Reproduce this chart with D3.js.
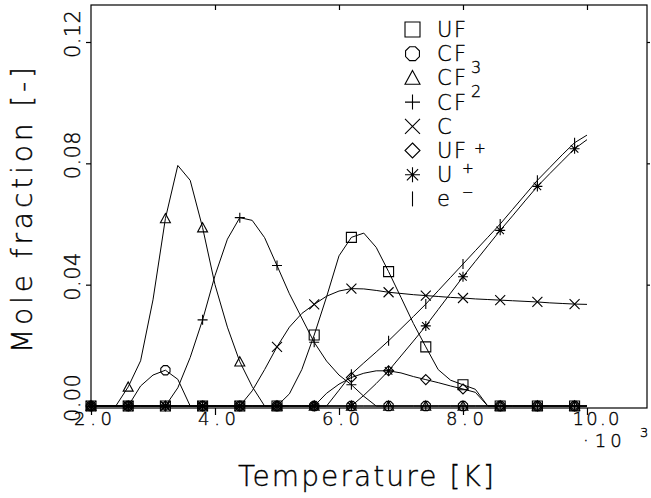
<!DOCTYPE html>
<html>
<head>
<meta charset="utf-8">
<script src="https://cdn.jsdelivr.net/npm/d3@7"></script>
<style>
  html, body { margin: 0; padding: 0; background: #fff; }
  svg { display: block; }
  text { font-family: "DejaVu Sans", "Liberation Sans", sans-serif; font-weight: 200; fill: #000;
         stroke: #000; stroke-width: 0.35px; }
</style>
</head>
<body>
<svg id="chart" width="651" height="498"></svg>
<script>
// Temperature grid of the computed curves (x 10^3 K)
const temperature = [2.0, 2.2, 2.4, 2.6, 2.8, 3.0, 3.2, 3.4, 3.6, 3.8,
                     4.0, 4.2, 4.4, 4.6, 4.8, 5.0, 5.2, 5.4, 5.6, 5.8,
                     6.0, 6.2, 6.4, 6.6, 6.8, 7.0, 7.2, 7.4, 7.6, 7.8,
                     8.0, 8.2, 8.4, 8.6, 8.8, 9.0, 9.2, 9.4, 9.6, 9.8, 10.0];

// Mole fractions of each species on that grid
const UF    = [0, 0, 0, 0, 0, 0, 0, 0, 0, 0,
               0, 0, 0, 0, 0, 0, 0.0040, 0.0120, 0.0234, 0.0360,
               0.0495, 0.0556, 0.0570, 0.0523, 0.0443, 0.0358, 0.0272, 0.0195, 0.0120, 0.0085,
               0.0070, 0.0055, 0, 0, 0, 0, 0, 0, 0, 0, 0];
const CF3   = [0, 0, 0, 0, 0.0066, 0.0102, 0.0118, 0.0088, 0, 0,
               0, 0, 0, 0, 0, 0, 0, 0, 0, 0,
               0, 0, 0, 0, 0, 0, 0, 0, 0, 0,
               0, 0, 0, 0, 0, 0, 0, 0, 0, 0, 0];
const CF2   = [0, 0, 0, 0.0063, 0.0149, 0.0350, 0.0618, 0.0793, 0.0744, 0.0588,
               0.0400, 0.0260, 0.0146, 0.0064, 0, 0, 0, 0, 0, 0,
               0, 0, 0, 0, 0, 0, 0, 0, 0, 0,
               0, 0, 0, 0, 0, 0, 0, 0, 0, 0, 0];
const CF    = [0, 0, 0, 0, 0, 0, 0, 0.0060, 0.0160, 0.0284,
               0.0430, 0.0550, 0.0621, 0.0612, 0.0555, 0.0463, 0.0370, 0.0290, 0.0210, 0.0148,
               0.0102, 0.0070, 0.0032, 0, 0, 0, 0, 0, 0, 0,
               0, 0, 0, 0, 0, 0, 0, 0, 0, 0, 0];
const C     = [0, 0, 0, 0, 0, 0, 0, 0, 0, 0,
               0, 0, 0, 0.0050, 0.0120, 0.0195, 0.0260, 0.0305, 0.0335, 0.0362,
               0.0379, 0.0387, 0.0386, 0.0381, 0.0375, 0.0371, 0.0367, 0.0364, 0.0361, 0.0358,
               0.0356, 0.0353, 0.0351, 0.0349, 0.0347, 0.0345, 0.0343, 0.0340, 0.0338, 0.0336, 0.0335];
const UFplus = [0, 0, 0, 0, 0, 0, 0, 0, 0, 0,
               0, 0, 0, 0, 0, 0, 0, 0, 0, 0.0042,
               0.0072, 0.0094, 0.0108, 0.0116, 0.0116, 0.0109, 0.0097, 0.0087, 0.0077, 0.0066,
               0.0056, 0.0045, 0, 0, 0, 0, 0, 0, 0, 0, 0];
const Uplus = [0, 0, 0, 0, 0, 0, 0, 0, 0, 0,
               0, 0, 0, 0, 0, 0, 0, 0, 0, 0,
               0, 0, 0.0035, 0.0074, 0.0116, 0.0165, 0.0214, 0.0264, 0.0318, 0.0372,
               0.0426, 0.0477, 0.0528, 0.0579, 0.0627, 0.0676, 0.0724, 0.0766, 0.0807, 0.0848, 0.0878];
const electron = [0, 0, 0, 0, 0, 0, 0, 0, 0, 0,
               0, 0, 0, 0, 0, 0, 0, 0, 0, 0,
               0.0052, 0.0105, 0.0142, 0.0178, 0.0215, 0.0255, 0.0295, 0.0336, 0.0380, 0.0424,
               0.0468, 0.0512, 0.0556, 0.0600, 0.0648, 0.0696, 0.0744, 0.0786, 0.0828, 0.0868, 0.0893];

// Axis ticks
const xTicks = [2.0, 4.0, 6.0, 8.0, 10.0];
const xTickLabels = ["2.0", "4.0", "6.0", "8.0", "10.0"];
const yTicks = [0.00, 0.04, 0.08, 0.12];
const yTickLabels = ["0.00", "0.04", "0.08", "0.12"];

// Species with their plot symbols
const series = [
  { key: "UF",   values: UF,       symbol: "square" },
  { key: "CF3",  values: CF3,      symbol: "circle" },
  { key: "CF2",  values: CF2,      symbol: "triangle" },
  { key: "CF",   values: CF,       symbol: "plus" },
  { key: "C",    values: C,        symbol: "cross" },
  { key: "UF+",  values: UFplus,   symbol: "diamond" },
  { key: "U+",   values: Uplus,    symbol: "star" },
  { key: "e-",   values: electron, symbol: "bar" }
];

const svg = d3.select("#chart");

const x = d3.scaleLinear().domain([2.0, 10.968]).range([91, 647]);
const y = d3.scaleLinear().domain([0, 0.12]).range([406, 42]);
const frameTop = 5, frameBottom = 408;

// Plotter-style open symbols
function symbolPath(type, s) {
  const p = d3.path();
  switch (type) {
    case "square":
      p.rect(-s, -s, 2 * s, 2 * s); break;
    case "circle": {
      // octagon, as drawn by a pen plotter
      for (let k = 0; k < 8; k++) {
        const a = Math.PI / 8 + k * Math.PI / 4;
        const px = s * Math.cos(a), py = s * Math.sin(a);
        if (k === 0) p.moveTo(px, py); else p.lineTo(px, py);
      }
      p.closePath(); break;
    }
    case "triangle":
      p.moveTo(0, -s); p.lineTo(s, s * 0.85); p.lineTo(-s, s * 0.85); p.closePath(); break;
    case "plus":
      p.moveTo(-s, 0); p.lineTo(s, 0); p.moveTo(0, -s); p.lineTo(0, s); break;
    case "cross":
      p.moveTo(-s, -s); p.lineTo(s, s); p.moveTo(-s, s); p.lineTo(s, -s); break;
    case "diamond":
      p.moveTo(0, -s); p.lineTo(s, 0); p.lineTo(0, s); p.lineTo(-s, 0); p.closePath(); break;
    case "star": {
      const d = s * 0.75;
      p.moveTo(-s, 0); p.lineTo(s, 0); p.moveTo(0, -s); p.lineTo(0, s);
      p.moveTo(-d, -d); p.lineTo(d, d); p.moveTo(-d, d); p.lineTo(d, -d); break;
    }
    case "bar":
      p.moveTo(0, -s); p.lineTo(0, s); break;
  }
  return p.toString();
}

// Frame
svg.append("rect")
  .attr("x", x.range()[0]).attr("y", frameTop)
  .attr("width", x.range()[1] - x.range()[0]).attr("height", frameBottom - frameTop)
  .attr("fill", "none").attr("stroke", "#000").attr("stroke-width", 1.2);

// Axes (ticks only; labels drawn separately)
const gx = svg.append("g").attr("transform", `translate(0,${frameBottom})`)
  .call(d3.axisBottom(x).tickValues(xTicks).tickSize(7).tickFormat(""));
const gxt = svg.append("g").attr("transform", `translate(0,${frameTop})`)
  .call(d3.axisTop(x).tickValues(xTicks.slice(1)).tickSize(-5).tickFormat(""));
const gy = svg.append("g").attr("transform", `translate(${x.range()[0]},0)`)
  .call(d3.axisLeft(y).tickValues(yTicks).tickSize(5).tickFormat(""));
const gyr = svg.append("g").attr("transform", `translate(${x.range()[1]},0)`)
  .call(d3.axisRight(y).tickValues(yTicks.slice(1)).tickSize(3).tickFormat(""));
[gx, gxt, gy, gyr].forEach(g => {
  g.select(".domain").remove();
  g.selectAll("line").attr("stroke", "#000").attr("stroke-width", 1.2);
});

// X tick labels
svg.append("g").selectAll("text").data(xTicks).join("text")
  .attr("x", d => x(d) + (d === 10 ? 9 : 2))
  .attr("y", 425)
  .attr("text-anchor", "middle")
  .attr("font-size", 18)
  .attr("textLength", (d, i) => xTickLabels[i].length === 4 ? 47 : 38)
  .attr("lengthAdjust", "spacing")
  .text((d, i) => xTickLabels[i]);

// Scale factor of the temperature axis
const mult = svg.append("text").attr("x", 583).attr("y", 447).attr("font-size", 18);
mult.append("tspan").text("·");
mult.append("tspan").text("10").attr("dx", 6).attr("letter-spacing", 4);
svg.append("text").attr("x", 640).attr("y", 437).attr("font-size", 13).text("3");

// Y tick labels, rotated
svg.append("g").selectAll("text").data(yTicks).join("text")
  .attr("transform", d => `translate(80,${y(d) - 8}) rotate(-90)`)
  .attr("text-anchor", "middle")
  .attr("font-size", 21)
  .attr("textLength", 48)
  .attr("lengthAdjust", "spacing")
  .text((d, i) => yTickLabels[i]);

// Axis titles
svg.append("text")
  .attr("x", 366).attr("y", 486)
  .attr("text-anchor", "middle")
  .attr("font-size", 28)
  .attr("textLength", 256).attr("lengthAdjust", "spacing")
  .text("Temperature [K]");
svg.append("text")
  .attr("transform", "translate(32,210) rotate(-90)")
  .attr("text-anchor", "middle")
  .attr("font-size", 28)
  .attr("textLength", 286).attr("lengthAdjust", "spacing")
  .text("Mole fraction [-]");

// Curves
const line = d3.line()
  .x((d, i) => x(temperature[i]))
  .y(d => y(d));

const plot = svg.append("g");
series.forEach(s => {
  plot.append("path")
    .attr("d", line(s.values))
    .attr("fill", "none")
    .attr("stroke", "#000")
    .attr("stroke-width", 1);
});

// Markers on every third grid temperature
series.forEach(s => {
  const pts = s.values.map((v, i) => ({ t: temperature[i], v, i })).filter(d => d.i % 3 === 0);
  plot.append("g").selectAll("path").data(pts).join("path")
    .attr("transform", d => `translate(${x(d.t)},${y(d.v)})`)
    .attr("d", symbolPath(s.symbol, 5))
    .attr("fill", "none")
    .attr("stroke", "#000")
    .attr("stroke-width", 1.1);
});

// Legend
const legendRows = [
  { symbol: "square",   base: "UF", sup: "",  sub: "" },
  { symbol: "circle",   base: "CF", sup: "",  sub: "3" },
  { symbol: "triangle", base: "CF", sup: "",  sub: "2" },
  { symbol: "plus",     base: "CF", sup: "",  sub: "" },
  { symbol: "cross",    base: "C",  sup: "",  sub: "" },
  { symbol: "diamond",  base: "UF", sup: "+", sub: "" },
  { symbol: "star",     base: "U",  sup: "+", sub: "" },
  { symbol: "bar",      base: "e",  sup: "−", sub: "" }
];
const legend = svg.append("g");
legendRows.forEach((r, k) => {
  const base = 37 + k * 24.2;
  legend.append("path")
    .attr("transform", `translate(412.5,${base - 7.5})`)
    .attr("d", symbolPath(r.symbol, 7.5))
    .attr("fill", "none").attr("stroke", "#000").attr("stroke-width", 1.1);
  const t = legend.append("text").attr("x", 437).attr("y", base).attr("font-size", 21);
  const bt = t.append("tspan").text(r.base);
  if (r.base.length === 2) bt.attr("textLength", 29).attr("lengthAdjust", "spacing");
  if (r.sub) {
    legend.append("text").attr("x", 471).attr("y", base + 12).attr("font-size", 16).text(r.sub);
  }
  if (r.sup) {
    const sx = r.base === "UF" ? 474 : 462;
    const sy = r.base === "UF" ? base - 5 : base - 9;
    legend.append("text").attr("x", sx).attr("y", sy).attr("font-size", 14).text(r.sup);
  }
});
</script>
</body>
</html>
